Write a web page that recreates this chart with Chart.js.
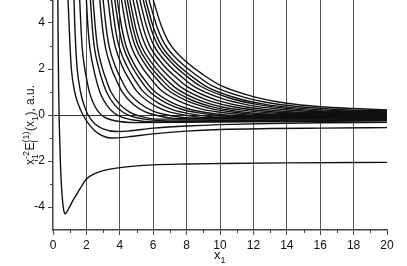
<!DOCTYPE html>
<html>
<head>
<meta charset="utf-8">
<script src="https://cdn.jsdelivr.net/npm/chart.js@4.4.1/dist/chart.umd.min.js"></script>
<style>
  html, body { margin: 0; padding: 0; background: #fff; }
</style>
</head>
<body>
<canvas id="chart" width="407" height="266"></canvas>
<script>
// tick values
const xTicks = [0, 2, 4, 6, 8, 10, 12, 14, 16, 18, 20];
const yTicks = [-4, -2, 0, 2, 4];
const xMinor = [1, 3, 5, 7, 9, 11, 13, 15, 17, 19];
const yMinor = [-3, -1, 1, 3, 5];

// deepest curve (dips to about -4.3 near x = 0.7)
const curveDeep = [[0.29,5],[0.31,3],[0.34,1],[0.38,-0.5],[0.44,-2],[0.5,-3],[0.58,-3.8],[0.65,-4.17],[0.73,-4.3],
  [0.82,-4.22],[1,-3.98],[1.25,-3.65],[1.5,-3.35],[1.75,-3.05],[2,-2.78],[2.5,-2.55],[3,-2.42],[4,-2.29],
  [6,-2.17],[8,-2.13],[10,-2.11],[14,-2.08],[20,-2.06]];

// two curves with a shallow minimum below zero
const curveMinLow = [[0.9,5],[0.96,4],[1.02,3],[1.1,2],[1.3,1],[1.55,0.4],[1.8,0],[2.2,-0.45],[2.7,-0.8],[3.5,-1],
  [4.5,-0.95],[6,-0.82],[8,-0.7],[10,-0.63],[13,-0.59],[16,-0.57],[20,-0.55]];
const curveMinHigh = [[1.26,5],[1.3,4],[1.36,3],[1.45,2],[1.65,1],[1.85,0.45],[2.1,0],[2.5,-0.38],[3,-0.6],[3.8,-0.72],
  [4.5,-0.7],[6,-0.57],[8,-0.48],[10,-0.42],[13,-0.37],[16,-0.34],[20,-0.32]];

// fan of decaying curves
const fanCurves = [
  [[1.6,5],[1.68,3.74],[1.75,2.9],[1.9,2.03],[2.05,1.43],[2.2,0.94],[2.5,0.39],[2.8,0.07],[3.1,-0.1],[3.7,-0.25],[5,-0.33],[9,-0.31],[20,-0.25]],
  [[2,5],[2.1,3.75],[2.21,2.91],[2.42,2.05],[2.62,1.44],[2.83,0.95],[3.25,0.4],[3.66,0.09],[4.08,-0.08],[4.91,-0.23],[6,-0.3],[10,-0.28],[20,-0.23]],
  [[2.24,5],[2.36,3.75],[2.48,2.92],[2.73,2.06],[2.97,1.46],[3.22,0.98],[3.7,0.43],[4.19,0.12],[4.68,-0.05],[5.66,-0.2],[7,-0.26],[11,-0.24],[20,-0.2]],
  [[2.4,5],[2.54,3.76],[2.67,2.93],[2.94,2.07],[3.21,1.48],[3.48,0.99],[4.02,0.45],[4.56,0.14],[5.1,-0.03],[6.18,-0.18],[20,-0.18]],
  [[2.8,5],[2.97,3.76],[3.14,2.94],[3.47,2.08],[3.81,1.49],[4.14,1.01],[4.82,0.46],[5.49,0.15],[6.16,-0.01],[7.5,-0.16],[20,-0.16]],
  [[3,5],[3.19,3.77],[3.37,2.95],[3.74,2.1],[4.11,1.51],[4.48,1.03],[5.23,0.49],[5.97,0.18],[6.71,0.02],[8.19,-0.13],[20,-0.13]],
  [[3.3,5],[3.51,3.77],[3.73,2.96],[4.15,2.11],[4.58,1.53],[5,1.05],[5.85,0.51],[6.7,0.2],[7.55,0.04],[9.25,-0.11],[20,-0.11]],
  [[3.5,5],[3.73,3.78],[3.96,2.96],[4.43,2.12],[4.89,1.54],[5.35,1.06],[6.28,0.53],[7.2,0.22],[8.13,0.06],[9.98,-0.09],[20,-0.09]],
  [[3.7,5],[3.95,3.79],[4.2,2.98],[4.7,2.14],[5.2,1.56],[5.7,1.08],[6.71,0.55],[7.71,0.25],[8.71,0.09],[10.71,-0.06],[20,-0.06]],
  [[3.85,5],[4.12,3.79],[4.38,2.98],[4.91,2.15],[5.44,1.57],[5.97,1.1],[7.03,0.57],[8.09,0.27],[9.15,0.11],[11.27,-0.04],[20,-0.04]],
  [[4.1,5],[4.39,3.8],[4.68,2.99],[5.26,2.16],[5.84,1.59],[6.42,1.11],[7.58,0.59],[8.74,0.29],[9.9,0.13],[12.22,-0.02],[20,-0.02]],
  [[4.3,5],[4.61,3.8],[4.92,3],[5.54,2.18],[6.16,1.61],[6.78,1.14],[8.03,0.61],[9.27,0.31],[10.51,0.15],[12.99,0.01],[20,0.01]],
  [[4.45,5],[4.78,3.81],[5.1,3.01],[5.75,2.19],[6.41,1.62],[7.06,1.15],[8.36,0.63],[9.67,0.33],[10.97,0.17],[13.58,0.03],[20,0.03]],
  [[4.6,5],[4.94,3.81],[5.28,3.02],[5.97,2.21],[6.65,1.64],[7.34,1.18],[8.7,0.66],[10.07,0.36],[11.44,0.2],[14.18,0.06],[20,0.06]],
  [[4.8,5],[5.16,3.82],[5.53,3.03],[6.25,2.22],[6.98,1.65],[7.71,1.19],[9.16,0.67],[10.62,0.38],[12.07,0.22],[14.98,0.08],[20,0.08]],
  [[5,5],[5.39,3.82],[5.77,3.04],[6.54,2.23],[7.31,1.67],[8.08,1.21],[9.62,0.69],[11.16,0.4],[12.7,0.24],[15.78,0.1],[20,0.1]],
  [[5.2,5],[5.61,3.83],[6.02,3.05],[6.83,2.25],[7.65,1.69],[8.46,1.23],[10.09,0.72],[11.72,0.43],[13.35,0.27],[16.61,0.13],[20,0.13]],
  [[5.4,5],[5.83,3.84],[6.26,3.06],[7.12,2.26],[7.98,1.7],[8.84,1.25],[10.56,0.74],[12.28,0.45],[14,0.29],[17.44,0.15],[20,0.15]],
  [[5.55,5],[6,3.84],[6.45,3.07],[7.34,2.27],[8.24,1.72],[9.13,1.26],[10.92,0.75],[12.71,0.46],[14.5,0.31],[18.08,0.17],[20,0.17]],
  [[5.75,5],[6.22,3.85],[6.69,3.08],[7.63,2.29],[8.57,1.74],[9.51,1.28],[11.4,0.78],[13.28,0.49],[15.16,0.34],[18.92,0.2],[20,0.2]],
  [[6,5],[6.5,3.85],[7,3.09],[8,2.3],[9,1.75],[10,1.3],[12,0.8],[14,0.51],[16,0.36],[18,0.28],[20,0.22]]
];

// axis titles with sub/superscripts
const yTitleParts = [{t: 'x'}, {sub: '1', sup: '-2'}, {t: 'E'}, {sub: 'l', sup: '(1)'}, {t: '(x'}, {sub: '1'}, {t: '), a.u.'}];
const xTitleParts = [{t: 'x'}, {sub: '1'}];

const FONT = '"Liberation Sans", Arial, sans-serif';

function drawRich(ctx, parts, cx, cy, angle, size) {
  const main = size + 'px ' + FONT;
  const small = Math.round(size * 0.72) + 'px ' + FONT;
  const widths = parts.map(p => {
    if (p.t) { ctx.font = main; return ctx.measureText(p.t).width; }
    ctx.font = small;
    return Math.max(p.sup ? ctx.measureText(p.sup).width : 0, p.sub ? ctx.measureText(p.sub).width : 0) + 0.5;
  });
  const total = widths.reduce((a, b) => a + b, 0);
  ctx.save();
  ctx.translate(cx, cy);
  ctx.rotate(angle);
  ctx.fillStyle = '#111';
  ctx.textBaseline = 'alphabetic';
  ctx.textAlign = 'left';
  let x = -total / 2;
  parts.forEach((p, i) => {
    if (p.t) {
      ctx.font = main;
      ctx.fillText(p.t, x, 0);
    } else {
      ctx.font = small;
      if (p.sup) ctx.fillText(p.sup, x, -size * 0.42);
      if (p.sub) ctx.fillText(p.sub, x, size * 0.32);
    }
    x += widths[i];
  });
  ctx.restore();
}

const extras = {
  id: 'extras',
  afterDraw(chart) {
    const ctx = chart.ctx;
    const xs = chart.scales.x, ys = chart.scales.y;
    const area = chart.chartArea;
    ctx.save();
    ctx.strokeStyle = '#444';
    ctx.lineWidth = 1;
    ctx.beginPath();
    xMinor.forEach(v => {
      const px = Math.round(xs.getPixelForValue(v)) + 0.5;
      ctx.moveTo(px, area.bottom);
      ctx.lineTo(px, area.bottom + 3);
    });
    yMinor.forEach(v => {
      const py = Math.round(ys.getPixelForValue(v)) + 0.5;
      ctx.moveTo(area.left, py);
      ctx.lineTo(area.left - 3, py);
    });
    ctx.stroke();
    ctx.restore();
    drawRich(ctx, yTitleParts, 34, 125, -Math.PI / 2, 12);
    drawRich(ctx, xTitleParts, 220, 259, 0, 13);
  }
};

const lineStyle = {
  showLine: true,
  borderColor: '#111',
  borderWidth: 1.4,
  pointRadius: 0,
  cubicInterpolationMode: 'monotone',
  fill: false
};

const datasets = [curveDeep, curveMinLow, curveMinHigh, ...fanCurves].map(d => Object.assign({data: d}, lineStyle));

new Chart(document.getElementById('chart'), {
  type: 'scatter',
  data: { datasets: datasets },
  options: {
    responsive: false,
    animation: false,
    layout: { padding: { left: 0, right: 20, top: 0, bottom: 0 } },
    plugins: { legend: { display: false }, tooltip: { enabled: false } },
    scales: {
      x: {
        type: 'linear',
        min: 0, max: 20,
        afterBuildTicks: s => { s.ticks = xTicks.map(v => ({ value: v })); },
        afterFit: s => { s.height = 36; s.paddingLeft = 0; s.paddingRight = 0; },
        ticks: { color: '#111', font: { family: FONT, size: 12 }, padding: 3, maxRotation: 0, autoSkip: false },
        grid: {
          color: c => (c.tick && (c.tick.value === 0 || c.tick.value === 20)) ? 'rgba(0,0,0,0)' : '#555',
          lineWidth: 1,
          tickLength: 5,
          tickColor: '#444'
        },
        border: { color: '#444', width: 1.5 }
      },
      y: {
        type: 'linear',
        min: -5, max: 5,
        afterBuildTicks: s => { s.ticks = yTicks.map(v => ({ value: v })); },
        afterFit: s => { s.width = 53; s.paddingTop = 0; s.paddingBottom = 0; },
        ticks: { color: '#111', font: { family: FONT, size: 12 }, padding: 3 },
        grid: {
          color: c => (c.tick && c.tick.value === 0) ? '#333' : 'rgba(0,0,0,0)',
          lineWidth: 1,
          tickLength: 5,
          tickColor: '#444'
        },
        border: { color: '#444', width: 1.5 }
      }
    }
  },
  plugins: [extras]
});
</script>
</body>
</html>
